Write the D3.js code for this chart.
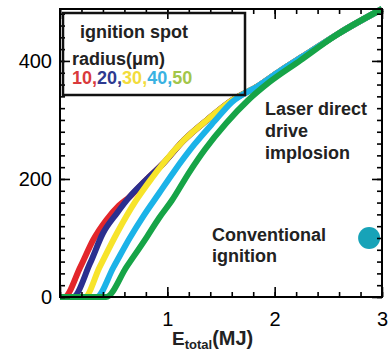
<!DOCTYPE html>
<html>
<head>
<meta charset="utf-8">
<script src="https://cdn.jsdelivr.net/npm/d3@7"></script>
<style>
  body { margin: 0; background: #fff; }
  svg text { font-family: "Liberation Sans", Arial, Helvetica, sans-serif; }
</style>
</head>
<body>
<div id="chart"></div>
<script>
// ignition spot radius (um) and the curves: [E_total (MJ), yield]
const radii = [10, 20, 30, 40, 50];

const curve10 = [[0, 0], [0.04, 0], [0.19, 51], [0.31, 97], [0.43, 130], [0.55, 155], [0.65, 170], [0.8, 198],
  [0.96, 226], [1.15, 265], [1.37, 300], [1.6, 333], [1.85, 358], [2.05, 383], [2.3, 412], [2.6, 447], [3.0, 488]];
const curve20 = [[0, 0], [0.12, 0], [0.28, 57], [0.40, 108], [0.53, 142], [0.65, 170], [0.8, 198],
  [0.96, 226], [1.15, 265], [1.37, 300], [1.6, 333], [1.85, 358], [2.05, 383], [2.3, 412], [2.6, 447], [3.0, 488]];
const curve30 = [[0, 0], [0.23, 0], [0.37, 51], [0.53, 108], [0.71, 164], [0.85, 200],
  [0.96, 226], [1.15, 265], [1.37, 300], [1.6, 333], [1.85, 358], [2.05, 383], [2.3, 412], [2.6, 447], [3.0, 488]];
const curve40 = [[0, 0], [0.34, 0], [0.50, 51], [0.65, 100], [0.78, 138], [0.92, 175], [1.06, 212], [1.25, 258],
  [1.44, 298], [1.6, 330], [1.85, 358], [2.05, 383], [2.3, 412], [2.6, 447], [3.0, 488]];
const curve50 = [[0, 0], [0.43, 0], [0.62, 51], [0.81, 102], [0.92, 133], [1.04, 163], [1.21, 213], [1.35, 250],
  [1.55, 295], [1.75, 333], [1.95, 364], [2.24, 401], [2.55, 441], [3.0, 488]];

const conventional = [2.88, 100];

const xMajor = [0, 1, 2, 3];
const yMajor = [0, 200, 400];

const colors = ['#e3262b', '#2b2f8f', '#f7e42a', '#1bb3e8', '#16a447'];
const legendColors = ['#d93a3c', '#2e3a90', '#f2dc3c', '#3ab2e2', '#a3c64a'];

const W = 392, H = 352;
const margin = { top: 9, right: 10, bottom: 55, left: 60 };
const width = W - margin.left - margin.right;
const height = H - margin.top - margin.bottom;

const svg = d3.select('#chart').append('svg')
  .attr('width', W)
  .attr('height', H);

const g = svg.append('g').attr('transform', `translate(${margin.left},${margin.top})`);

const x = d3.scaleLinear().domain([0, 3]).range([0, width]);
const y = d3.scaleLinear().domain([0, 488]).range([height, 0]);

const line = d3.line()
  .x((d) => x(d[0]))
  .y((d) => y(d[1]))
  .curve(d3.curveMonotoneX);

// curves, 50um drawn last so it sits on top
[curve10, curve20, curve30, curve40, curve50].forEach((c, i) => {
  g.append('path')
    .datum(c)
    .attr('d', line)
    .attr('fill', 'none')
    .attr('stroke', colors[i])
    .attr('stroke-width', 6)
    .attr('stroke-linecap', 'butt');
});

// conventional ignition point
g.append('circle')
  .attr('cx', x(conventional[0]))
  .attr('cy', y(conventional[1]))
  .attr('r', 11)
  .attr('fill', '#17a3b8');

// axes, ticks all pointing inward
const xMinor = d3.range(0, 3.001, 0.2);
const yMinor = d3.range(0, 488, 20);

function styleAxis(sel) {
  sel.select('.domain').remove();
  sel.selectAll('line').attr('stroke', '#000').attr('stroke-width', 1.6);
  sel.selectAll('text').attr('fill', '#000').attr('font-size', 20);
}

g.append('g').attr('transform', `translate(0,${height})`)
  .call(d3.axisBottom(x).tickValues(xMinor).tickSize(-5).tickFormat(''))
  .call(styleAxis);
g.append('g').attr('transform', `translate(0,${height})`)
  .call(d3.axisBottom(x).tickValues(xMajor).tickSize(-10).tickPadding(15)
    .tickFormat((d) => (d === 0 ? '' : d)))
  .call(styleAxis);

g.append('g')
  .call(d3.axisTop(x).tickValues(xMinor).tickSize(-5).tickFormat(''))
  .call(styleAxis);
g.append('g')
  .call(d3.axisTop(x).tickValues(xMajor).tickSize(-10).tickFormat(''))
  .call(styleAxis);

g.append('g')
  .call(d3.axisLeft(y).tickValues(yMinor).tickSize(-5).tickFormat(''))
  .call(styleAxis);
g.append('g')
  .call(d3.axisLeft(y).tickValues(yMajor).tickSize(-10).tickPadding(8).tickFormat(d3.format('d')))
  .call(styleAxis);

g.append('g').attr('transform', `translate(${width},0)`)
  .call(d3.axisRight(y).tickValues(yMinor).tickSize(-5).tickFormat(''))
  .call(styleAxis);
g.append('g').attr('transform', `translate(${width},0)`)
  .call(d3.axisRight(y).tickValues(yMajor).tickSize(-10).tickFormat(''))
  .call(styleAxis);

g.append('rect')
  .attr('width', width)
  .attr('height', height)
  .attr('fill', 'none')
  .attr('stroke', '#000')
  .attr('stroke-width', 2);

// legend box
const legend = g.append('g').attr('transform', 'translate(3,4)');
legend.append('rect')
  .attr('width', 182)
  .attr('height', 82)
  .attr('fill', 'none')
  .attr('stroke', '#111')
  .attr('stroke-width', 2.5);
legend.append('text')
  .attr('x', 17).attr('y', 25)
  .attr('font-size', 18).attr('font-weight', 'bold').attr('fill', '#222')
  .text('ignition spot');
legend.append('text')
  .attr('x', 9).attr('y', 52)
  .attr('font-size', 18).attr('font-weight', 'bold').attr('fill', '#222')
  .text('radius(\u03bcm)');
const nums = legend.append('text')
  .attr('x', 9).attr('y', 71)
  .attr('font-size', 18).attr('font-weight', 'bold');
radii.forEach((r, i) => {
  nums.append('tspan').attr('fill', legendColors[i]).text(r);
  if (i < radii.length - 1) nums.append('tspan').attr('fill', legendColors[i]).text(',');
});

// annotations
const ann = g.append('g').attr('font-size', 18).attr('font-weight', 'bold').attr('fill', '#222');
const laser = ann.append('text').attr('x', x(1.91)).attr('y', y(308));
['Laser direct', 'drive', 'implosion'].forEach((t, i) => {
  laser.append('tspan').attr('x', x(1.91)).attr('dy', i === 0 ? 0 : 22).text(t);
});
const conv = ann.append('text').attr('x', x(1.416)).attr('y', y(95));
['Conventional', 'ignition'].forEach((t, i) => {
  conv.append('tspan').attr('x', x(1.416)).attr('dy', i === 0 ? 0 : 21).text(t);
});

// x axis title
const xt = svg.append('text')
  .attr('x', 172).attr('y', 345)
  .attr('font-weight', 'bold').attr('fill', '#222');
xt.append('tspan').attr('font-size', 19).text('E');
xt.append('tspan').attr('font-size', 13).attr('dy', 4).text('total');
xt.append('tspan').attr('font-size', 20).attr('dy', -4).text('(MJ)');
</script>
</body>
</html>
